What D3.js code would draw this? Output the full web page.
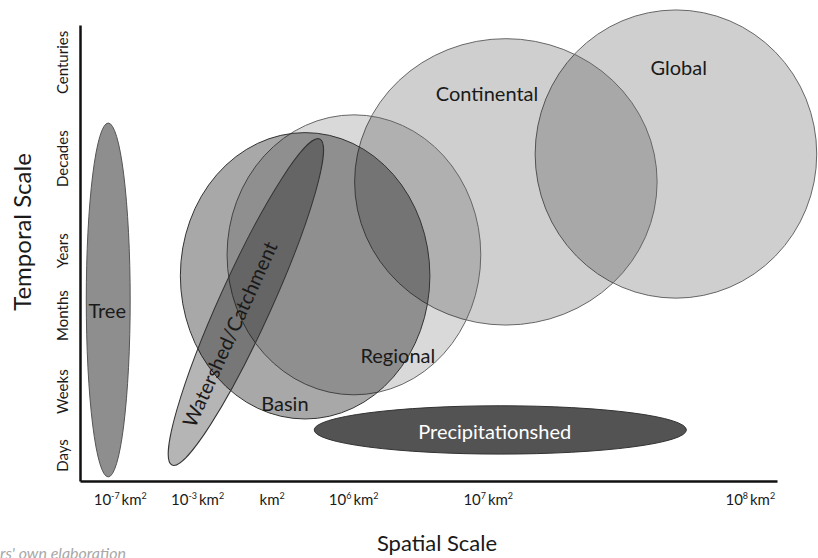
<!DOCTYPE html>
<html>
<head>
<meta charset="utf-8">
<script src="https://cdn.jsdelivr.net/npm/d3@7"></script>
<style>
  html, body { margin: 0; padding: 0; background: #fff; overflow: hidden; }
  text { font-family: Lato, "Open Sans", sans-serif; fill: #1a1a1a; }
</style>
</head>
<body>
<div id="chart"></div>
<script>
// ---- data (arbitrary axis units 0..10) ----
const timeLabels = ["Days", "Weeks", "Months", "Years", "Decades", "Centuries"];
const timeTicks  = [0.57, 1.97, 3.64, 5.06, 7.08, 9.19];

const spaceBase  = ["10", "10", "", "10", "10", "10"];
const spaceExp   = ["-7", "-3", "", "6", "7", "8"];
const spaceTicks = [0.57, 1.68, 2.75, 3.92, 5.85, 9.61];

// scale extents: spatial range (x) and temporal range (y)
const scaleNames = ["Global", "Continental", "Regional", "Basin", "Tree", "Precipitationshed"];
const xMin = [6.53, 3.94, 2.11, 1.44, 0.09, 3.36];
const xMax = [10.57, 8.28, 5.75, 5.02, 0.72, 8.70];
const yMin = [4.01, 3.42, 1.89, 1.36, 0.09, 0.59];
const yMax = [10.33, 9.70, 8.03, 7.64, 7.85, 1.65];

// watershed is a tilted band: from tip to tip
const shedFrom = [1.32, 0.35];
const shedTo   = [3.44, 7.50];

// ---- layout ----
const width = 818, height = 558;
const margin = {left: 80, right: 41, top: 25, bottom: 77};

const FILL = {
  Global: ["#000", 0.19], Continental: ["#000", 0.19], Regional: ["#000", 0.15],
  Basin: ["#000", 0.34], Tree: ["#8e8e8e", 1], Precipitationshed: ["#535353", 1]
};
const STROKE = {
  Global: "#666", Continental: "#666", Regional: "#666",
  Basin: "#333", Tree: "#555", Precipitationshed: "#333"
};
// label anchor in axis units
const LABEL_POS = {
  Global: [8.59, 9.08], Continental: [5.84, 8.51], Regional: [4.56, 2.76],
  Basin: [2.94, 1.71], Tree: [0.39, 3.75], Precipitationshed: [5.95, 1.10]
};

const svg = d3.select("#chart").append("svg")
  .attr("width", width).attr("height", height);

const x = d3.scaleLinear().domain([0, 10]).range([margin.left, width - margin.right]);
const y = d3.scaleLinear().domain([0, 10]).range([height - margin.bottom, margin.top]);

const shapes = scaleNames.map((name, i) => ({
  name, x0: xMin[i], x1: xMax[i], y0: yMin[i], y1: yMax[i]
}));

const drawOrder = ["Global", "Continental", "Regional", "Basin"];

function drawEllipses(sel) {
  sel.append("ellipse")
    .attr("cx", d => (x(d.x0) + x(d.x1)) / 2)
    .attr("cy", d => (y(d.y0) + y(d.y1)) / 2)
    .attr("rx", d => (x(d.x1) - x(d.x0)) / 2)
    .attr("ry", d => (y(d.y0) - y(d.y1)) / 2)
    .attr("fill", d => FILL[d.name][0])
    .attr("fill-opacity", d => FILL[d.name][1])
    .attr("stroke", d => STROKE[d.name])
    .attr("stroke-width", 1);
}

// big translucent ellipses
svg.append("g")
  .selectAll("ellipse")
  .data(shapes.filter(d => drawOrder.includes(d.name)))
  .enter()
  .call(drawEllipses);

// watershed band
const p0 = [x(shedFrom[0]), y(shedFrom[1])];
const p1 = [x(shedTo[0]), y(shedTo[1])];
const shedLen = Math.hypot(p1[0] - p0[0], p1[1] - p0[1]);
const shedAng = Math.atan2(p1[1] - p0[1], p1[0] - p0[0]) * 180 / Math.PI;
const shedCx = (p0[0] + p1[0]) / 2, shedCy = (p0[1] + p1[1]) / 2;

svg.append("ellipse")
  .attr("cx", 0).attr("cy", 0)
  .attr("rx", shedLen / 2).attr("ry", 26)
  .attr("transform", `translate(${shedCx},${shedCy}) rotate(${shedAng})`)
  .attr("fill", "#000").attr("fill-opacity", 0.29)
  .attr("stroke", "#333").attr("stroke-width", 1);

// solid ellipses
svg.append("g")
  .selectAll("ellipse")
  .data(shapes.filter(d => !drawOrder.includes(d.name)))
  .enter()
  .call(drawEllipses);

// labels
svg.append("g")
  .selectAll("text")
  .data(shapes)
  .enter()
  .append("text")
  .attr("x", d => x(LABEL_POS[d.name][0]))
  .attr("y", d => y(LABEL_POS[d.name][1]))
  .attr("text-anchor", "middle")
  .attr("dominant-baseline", "central")
  .style("font-size", "20px")
  .style("fill", d => d.name === "Precipitationshed" ? "#fff" : "#1a1a1a")
  .text(d => d.name);

svg.append("text")
  .attr("transform", `translate(${shedCx},${shedCy}) rotate(${shedAng}) translate(-36,-2)`)
  .attr("text-anchor", "middle")
  .attr("dominant-baseline", "central")
  .style("font-size", "20px")
  .text("Watershed/Catchment");

// axes
const yAxis = svg.append("g")
  .attr("transform", `translate(${margin.left},0)`)
  .call(d3.axisLeft(y).tickValues(timeTicks).tickSize(0).tickFormat((d, i) => timeLabels[i]));
yAxis.select(".domain").attr("stroke", "#111").attr("stroke-width", 2.5);
yAxis.selectAll(".tick text")
  .attr("x", 0).attr("y", 0)
  .attr("transform", "translate(-17,0) rotate(-90)")
  .attr("text-anchor", "middle")
  .attr("dy", "0.35em")
  .style("font-family", "Lato, sans-serif")
  .style("font-size", "15px")
  .style("fill", "#1a1a1a");

const xAxis = svg.append("g")
  .attr("transform", `translate(0,${height - margin.bottom})`)
  .call(d3.axisBottom(x).tickValues(spaceTicks).tickSize(0).tickFormat(""));
xAxis.select(".domain").attr("stroke", "#111").attr("stroke-width", 2.5);
xAxis.selectAll(".tick text").each(function (d, i) {
  const t = d3.select(this)
    .attr("y", 24).attr("dy", 0)
    .attr("text-anchor", "middle")
    .style("font-family", "Lato, sans-serif")
    .style("font-size", "15px")
    .style("fill", "#1a1a1a");
  if (spaceBase[i]) {
    t.append("tspan").text(spaceBase[i]);
    t.append("tspan").attr("dy", -6).style("font-size", "9px").text(spaceExp[i]);
    t.append("tspan").attr("dy", 6).text("\u2009km");
  } else {
    t.append("tspan").text("km");
  }
  t.append("tspan").attr("dy", -6).style("font-size", "9px").text("2");
});
svg.selectAll(".tick line").remove();

// axis titles
svg.append("text")
  .attr("transform", "translate(21,232) rotate(-90)")
  .attr("text-anchor", "middle")
  .attr("dominant-baseline", "central")
  .style("font-size", "24px")
  .text("Temporal Scale");

svg.append("text")
  .attr("x", 437).attr("y", 551)
  .attr("text-anchor", "middle")
  .style("font-size", "22px")
  .text("Spatial Scale");

// source note (cut by the frame)
svg.append("text")
  .attr("x", 126).attr("y", 559)
  .attr("text-anchor", "end")
  .style("font-size", "16px")
  .style("font-style", "italic")
  .style("fill", "#a8a8a8")
  .text("Source: Authors' own elaboration");
</script>
</body>
</html>
